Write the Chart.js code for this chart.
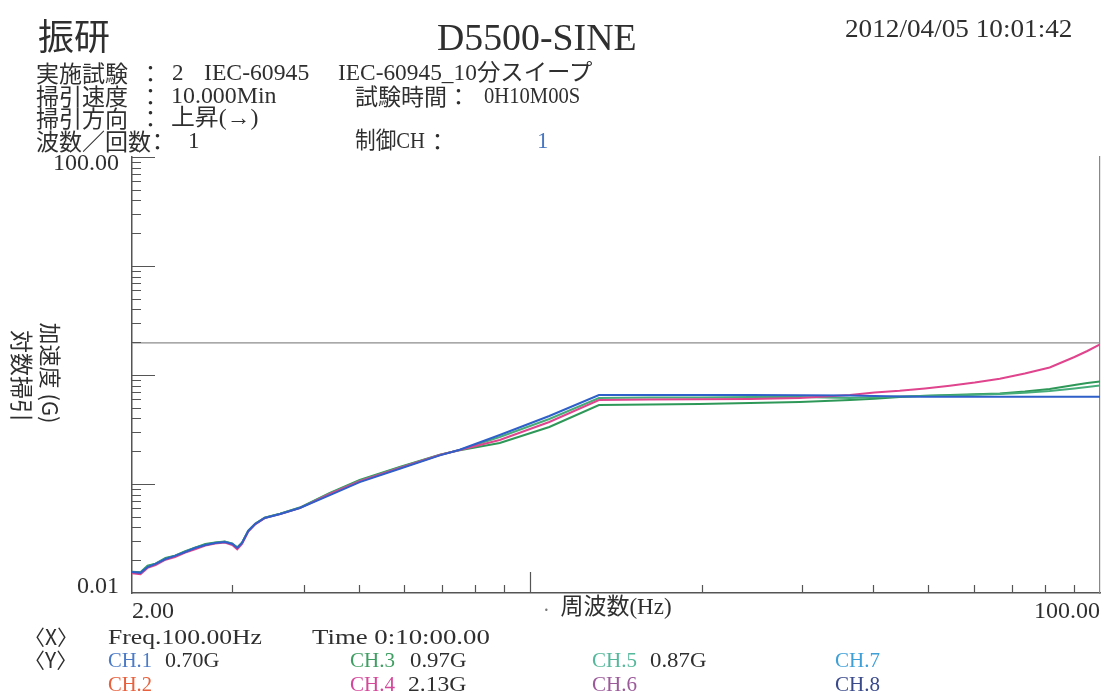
<!DOCTYPE html>
<html><head><meta charset="utf-8">
<script src="https://cdn.jsdelivr.net/npm/chart.js@4.4.1/dist/chart.umd.min.js"></script>
<style>
html,body{margin:0;padding:0;background:#fff;}
#wrap{position:relative;width:1104px;height:693px;overflow:hidden;background:#fff;}
#c{position:absolute;left:0;top:0;}
.t{position:absolute;white-space:nowrap;line-height:1;color:#333;font-family:"Liberation Serif","Noto Sans CJK JP",serif;transform-origin:0 50%;}
.cjk{font-family:"Noto Sans CJK JP",sans-serif;}
.rot{transform-origin:50% 50%;}
</style></head><body>
<div id="wrap"><canvas id="c" width="1104" height="693"></canvas></div>
<script>
// ---- data ----
const freqHz = [2.0, 2.07, 2.13, 2.2, 2.29, 2.38, 2.48, 2.58, 2.69, 2.8, 2.91, 3.0, 3.06, 3.12, 3.2, 3.29, 3.42, 3.64, 3.94, 4.45, 5.02, 5.9, 6.94, 7.52, 8.84, 10.8, 13.2, 16.2, 19.8, 24.3, 29.7, 36.4, 40.2, 44.5, 49.3, 54.5, 60.3, 66.7, 73.8, 81.6, 90.2, 95.0, 100];
const ch1G = [0.0156,0.0153,0.0173,0.0185,0.0205,0.0219,0.0238,0.0259,0.0276,0.0288,0.0294,0.0282,0.0259,0.0288,0.0371,0.0430,0.0488,0.0531,0.0602,0.0790,0.1040,0.1380,0.1830,0.2060,0.2815,0.4206,0.6555,0.6555,0.6550,0.6550,0.6530,0.6490,0.6420,0.6350,0.6320,0.6320,0.6320,0.6320,0.6320,0.6320,0.6320,0.6320,0.6320];
const ch3G = [0.0157,0.0155,0.0178,0.0186,0.0210,0.0220,0.0242,0.0260,0.0281,0.0290,0.0296,0.0284,0.0262,0.0290,0.0374,0.0432,0.0492,0.0535,0.0608,0.0830,0.1090,0.1430,0.1860,0.2040,0.2377,0.3334,0.5310,0.5360,0.5420,0.5530,0.5650,0.5900,0.6050,0.6280,0.6450,0.6560,0.6650,0.6770,0.7050,0.7440,0.8100,0.8450,0.8720];
const ch4G = [0.0152,0.0149,0.0170,0.0180,0.0202,0.0214,0.0235,0.0252,0.0272,0.0285,0.0290,0.0276,0.0252,0.0282,0.0366,0.0426,0.0486,0.0529,0.0600,0.0810,0.1060,0.1400,0.1845,0.2050,0.2533,0.3706,0.5900,0.5960,0.5980,0.6020,0.6150,0.6550,0.6910,0.7160,0.7520,0.7960,0.8520,0.9230,1.0320,1.1720,1.4630,1.6610,1.9050];
const ch5G = [0.0156,0.0154,0.0175,0.0186,0.0207,0.0220,0.0240,0.0260,0.0278,0.0289,0.0295,0.0283,0.0260,0.0289,0.0372,0.0431,0.0490,0.0533,0.0605,0.0820,0.1075,0.1415,0.1850,0.2055,0.2700,0.3950,0.6150,0.6220,0.6220,0.6280,0.6280,0.6150,0.6250,0.6350,0.6420,0.6490,0.6580,0.6690,0.6880,0.7130,0.7520,0.7750,0.8010];
const limitFreqHz = [2, 100];
const limitG = [1.97, 1.97];
const xTickValues = [2,3,4,5,6,7,8,9,10,20,30,40,50,60,70,80,90,100];
const yTickValues = [0.01,0.02,0.03,0.04,0.05,0.06,0.07,0.08,0.09,0.1,0.2,0.3,0.4,0.5,0.6,0.7,0.8,0.9,1,2,3,4,5,6,7,8,9,10,20,30,40,50,60,70,80,90,100];
const xTickText = {2: '2.00', 100: '100.00'};
const yTickText = {100: ['', '100.00'], 0.01: ['0.01', '']};

// ---- page text ----
const INK = '#2f2f2f';
const texts = [
  // [text, left, centerY, size, color, fitWidth, class]
  ['振研', 38, 35, 36, INK, null, 'cjk'],
  ['D5500-SINE', 437, 38, 38, INK, 200],
  ['2012/04/05 10:01:42', 845, 30, 26, INK, 227],
  ['実施試験', 36, 73, 23, INK, null, 'cjk'],
  ['：', 139, 73, 23, INK, null, 'cjk'],
  ['2', 172, 73, 23, INK],
  ['IEC-60945', 204, 73, 23, INK, 105],
  ['IEC-60945_10分スイープ', 338, 73, 23, INK, 254],
  ['掃引速度', 36, 96, 23, INK, null, 'cjk'],
  ['：', 139, 96, 23, INK, null, 'cjk'],
  ['10.000Min', 171, 96, 23, INK, 106],
  ['試験時間', 355, 96, 23, INK, null, 'cjk'],
  ['：', 447, 96, 23, INK, null, 'cjk'],
  ['0H10M00S', 484, 96, 23, INK, 96],
  ['掃引方向', 36, 118, 23, INK, null, 'cjk'],
  ['：', 139, 118, 23, INK, null, 'cjk'],
  ['上昇(→)', 171, 118, 23, INK, 87],
  ['波数／回数', 36, 141, 23, INK, null, 'cjk'],
  ['：', 146, 141, 23, INK, null, 'cjk'],
  ['1', 188, 141, 23, INK],
  ['制御CH', 355, 141, 23, INK, 70],
  ['：', 426, 141, 23, INK, null, 'cjk'],
  ['1', 537, 141, 23, '#4a78c0'],
  ['·', 543, 610, 20, '#777'],
  ['〈X〉', 24, 637, 21, INK, null, 'cjk'],
  ['Freq.100.00Hz', 108, 637, 22, INK, 154],
  ['Time 0:10:00.00', 312, 637, 22, INK, 178],
  ['〈Y〉', 24, 660, 21, INK, null, 'cjk'],
  ['CH.1', 108, 660, 22, '#4b7bc8', 44],
  ['0.70G', 165, 660, 22, INK, 54],
  ['CH.3', 350, 660, 22, '#3f9f62', 45],
  ['0.97G', 410, 660, 22, INK, 56],
  ['CH.5', 592, 660, 22, '#55b89a', 45],
  ['0.87G', 650, 660, 22, INK, 56],
  ['CH.7', 835, 660, 22, '#3fa0d8', 45],
  ['CH.2', 108, 684, 22, '#e8603c', 44],
  ['CH.4', 350, 684, 22, '#d4479a', 45],
  ['2.13G', 408, 684, 22, INK, 58],
  ['CH.6', 592, 684, 22, '#9b5a9a', 45],
  ['CH.8', 835, 684, 22, '#3a4a8a', 45]
];
const rotTexts = [
  // [text, centerX, centerY, size]
  ['加速度 (G)', 52, 373, 22],
  ['対数掃引', 22, 376, 23]
];

const wrap = document.getElementById('wrap');
const fitEls = [];
texts.forEach(([s, x, cy, size, color, w, cls]) => {
  const d = document.createElement('div');
  d.className = 't' + (cls ? ' ' + cls : '');
  d.textContent = s;
  d.style.left = x + 'px';
  d.style.top = (cy - size * 0.52) + 'px';
  d.style.fontSize = size + 'px';
  d.style.color = color;
  wrap.appendChild(d);
  if (w) fitEls.push([d, w]);
});
rotTexts.forEach(([s, cx, cy, size]) => {
  const d = document.createElement('div');
  d.className = 't cjk rot';
  d.textContent = s;
  d.style.left = cx + 'px';
  d.style.top = cy + 'px';
  d.style.fontSize = size + 'px';
  d.style.color = INK;
  d.style.transform = 'translate(-50%,-50%) rotate(90deg)';
  wrap.appendChild(d);
});
function fit() {
  fitEls.forEach(([d, w]) => { d.style.transform = 'scaleX(' + (w / d.offsetWidth) + ')'; });
}
fit();
if (document.fonts && document.fonts.ready) document.fonts.ready.then(fit);

// ---- chart ----
const AXIS = '#555';
const innerTicks = {
  id: 'innerTicks',
  afterDraw(chart) {
    const {ctx, chartArea} = chart;
    const xs = chart.scales.x, ys = chart.scales.y;
    const isDecade = v => Math.abs(Math.log10(v) - Math.round(Math.log10(v))) < 1e-6;
    ctx.save();
    ctx.strokeStyle = AXIS;
    ctx.lineWidth = 1.2;
    ctx.beginPath();
    yTickValues.forEach(v => {
      if (v === yTickValues[0]) return;
      const py = Math.round(ys.getPixelForValue(v)) + 0.5;
      const len = isDecade(v) ? 23 : 9;
      ctx.moveTo(chartArea.left, py);
      ctx.lineTo(chartArea.left + len, py);
    });
    xTickValues.forEach(v => {
      if (v === xTickValues[0] || v === xTickValues[xTickValues.length - 1]) return;
      const px = Math.round(xs.getPixelForValue(v)) + 0.5;
      const len = isDecade(v) ? 21 : 8;
      ctx.moveTo(px, chartArea.bottom);
      ctx.lineTo(px, chartArea.bottom - len);
    });
    ctx.stroke();
    ctx.restore();
  }
};

const series = (label, vals, color) => ({
  label, yAxisID: 'y',
  data: freqHz.map((f, i) => ({x: f, y: vals[i]})),
  borderColor: color, borderWidth: 2, pointRadius: 0, fill: false, tension: 0
});

new Chart(document.getElementById('c'), {
  type: 'line',
  data: {
    datasets: [
      series('CH.1', ch1G, '#2f5fc8'),
      series('CH.4', ch4G, '#df448d'),
      series('CH.5', ch5G, '#46ad7a'),
      series('CH.3', ch3G, '#2e9858'),
      {label: 'limit', yAxisID: 'y', data: limitFreqHz.map((f, i) => ({x: f, y: limitG[i]})),
       borderColor: '#8c8c8c', borderWidth: 1.4, pointRadius: 0, fill: false}
    ]
  },
  options: {
    responsive: false, animation: false, events: [],
    layout: {padding: {top: 157, right: 4, bottom: 70, left: 0}},
    plugins: {legend: {display: false}, tooltip: {enabled: false}},
    scales: {
      x: {
        type: 'logarithmic', position: 'bottom', min: 2, max: 100,
        afterBuildTicks: s => { s.ticks = xTickValues.map(v => ({value: v})); },
        afterFit: s => { s.height = 30; },
        grid: {display: false},
        border: {display: true, color: AXIS, width: 1.5},
        ticks: {autoSkip: false, maxRotation: 0, minRotation: 0, align: 'inner', padding: -4, color: INK,
          font: {family: '"Liberation Serif"', size: 24},
          callback: v => xTickText[v] || ''},
        title: {display: true, text: '周波数(Hz)', color: INK,
          font: {family: '"Liberation Serif","Noto Sans CJK JP"', size: 23},
          padding: {top: 0, bottom: 1}}
      },
      y: {
        type: 'logarithmic', position: 'left', min: 0.01, max: 100,
        afterBuildTicks: s => { s.ticks = yTickValues.map(v => ({value: v})); },
        afterFit: s => { s.width = 132; },
        grid: {display: false},
        border: {display: true, color: AXIS, width: 1.5},
        ticks: {autoSkip: false, padding: 5, color: INK,
          font: {family: '"Liberation Serif"', size: 24, lineHeight: 0.54},
          callback: v => yTickText[v] || ''}
      },
      yR: {
        type: 'linear', position: 'right', display: true,
        afterFit: s => { s.width = 0; },
        grid: {display: false}, ticks: {display: false},
        border: {display: true, color: '#888', width: 1.2}
      }
    }
  },
  plugins: [innerTicks]
});
</script>
</body></html>
